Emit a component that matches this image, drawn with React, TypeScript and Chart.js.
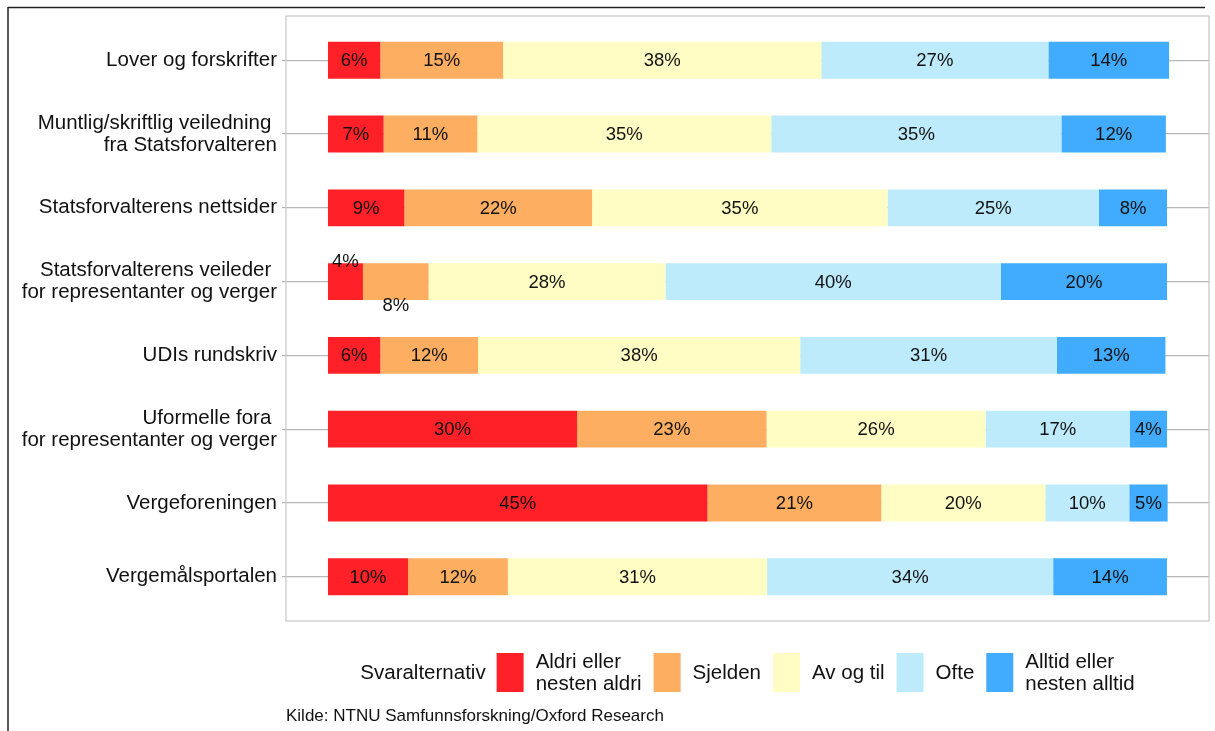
import React, { useEffect, useRef } from "react";
import { Chart, registerables } from "chart.js";

Chart.register(...registerables);

const categories: (string | string[])[] = [
  "Lover og forskrifter",
  ["Muntlig/skriftlig veiledning ", "fra Statsforvalteren"],
  "Statsforvalterens nettsider",
  ["Statsforvalterens veileder ", "for representanter og verger"],
  "UDIs rundskriv",
  ["Uformelle fora ", "for representanter og verger"],
  "Vergeforeningen",
  "Vergemålsportalen",
];

const seriesLabels: string[][] = [
  ["Aldri eller", "nesten aldri"],
  ["Sjelden"],
  ["Av og til"],
  ["Ofte"],
  ["Alltid eller", "nesten alltid"],
];

const seriesColors = ["#FF2127", "#FDAE61", "#FFFDC3", "#BDEBFC", "#41ABFD"];

const aldri = [6.24, 6.63, 9.1, 4.17, 6.24, 29.69, 45.23, 9.55];
const sjelden = [14.63, 11.17, 22.38, 7.82, 11.65, 22.58, 20.71, 11.89];
const avOgTil = [37.92, 35.03, 35.21, 28.23, 38.39, 26.11, 19.55, 30.89];
const ofte = [27.07, 34.58, 25.2, 39.99, 30.6, 17.17, 10.01, 34.1];
const alltid = [14.38, 12.45, 8.11, 19.79, 12.93, 4.45, 4.57, 13.56];

const legendTitle = "Svaralternativ";
const caption = "Kilde: NTNU Samfunnsforskning/Oxford Research";

const FONT = '"Liberation Sans", Arial, Helvetica, sans-serif';

const seriesValues = [aldri, sjelden, avOgTil, ofte, alltid];

// label nudges for crowded row (row index -> dataset index -> vertical shift px)
const labelNudges: Record<number, Record<number, number>> = { 3: { 0: -21, 1: 23 } };

const decorPlugin = {
  id: "decor",
  afterDatasetsDraw(chart: any) {
    const ctx = chart.ctx;
    ctx.save();
    ctx.font = `18.5px ${FONT}`;
    ctx.fillStyle = "#111";
    ctx.textAlign = "center";
    ctx.textBaseline = "middle";
    chart.data.datasets.forEach((ds: any, di: number) => {
      const meta = chart.getDatasetMeta(di);
      meta.data.forEach((el: any, i: number) => {
        const v = ds.data[i].x;
        const left = Math.min(el.x, el.base);
        const right = Math.max(el.x, el.base);
        const cx = (left + right) / 2;
        const nudge = (labelNudges[i] && labelNudges[i][di]) || 0;
        ctx.fillText(Math.round(v) + "%", cx, el.y + nudge + 1);
      });
    });
    ctx.restore();
  },
  afterDraw(chart: any) {
    const ctx = chart.ctx;
    const ca = chart.chartArea;
    ctx.save();
    // panel border
    ctx.strokeStyle = "#c6c6c6";
    ctx.lineWidth = 1.2;
    ctx.strokeRect(ca.left, ca.top, ca.right - ca.left, ca.bottom - ca.top);

    // outer frame lines
    ctx.strokeStyle = "#222";
    ctx.lineWidth = 1.5;
    ctx.beginPath();
    ctx.moveTo(8, 7.5);
    ctx.lineTo(1205, 7.5);
    ctx.moveTo(8, 7);
    ctx.lineTo(8, chart.height);
    ctx.stroke();

    // legend
    ctx.font = `20.5px ${FONT}`;
    ctx.fillStyle = "#111";
    ctx.textBaseline = "middle";
    ctx.textAlign = "left";
    const boxW = 27;
    const boxH = 39;
    const gapTitle = 11;
    const gapBoxText = 12;
    const gapItem = 12;
    const lineH = 21.7;
    const cy = 672.5;
    const titleW = ctx.measureText(legendTitle).width;
    const itemWidths = seriesLabels.map((lines) =>
      Math.max(...lines.map((l) => ctx.measureText(l).width))
    );
    let total = titleW + gapTitle;
    itemWidths.forEach((w, i) => {
      total += boxW + gapBoxText + w + (i < itemWidths.length - 1 ? gapItem : 0);
    });
    let x = (ca.left + ca.right) / 2 - total / 2;
    ctx.fillText(legendTitle, x, cy + 1);
    x += titleW + gapTitle;
    seriesLabels.forEach((lines, i) => {
      ctx.fillStyle = seriesColors[i];
      ctx.fillRect(x, cy - boxH / 2, boxW, boxH);
      x += boxW + gapBoxText;
      ctx.fillStyle = "#111";
      const n = lines.length;
      lines.forEach((l, li) => {
        ctx.fillText(l, x, cy + 1 + (li - (n - 1) / 2) * lineH);
      });
      x += itemWidths[i] + gapItem;
    });

    // caption
    ctx.font = `17px ${FONT}`;
    ctx.fillText(caption, ca.left, 716);
    ctx.restore();
  },
};

export default function App() {
  const ref = useRef<HTMLCanvasElement | null>(null);
  useEffect(() => {
    if (!ref.current) return;
    const chart = new Chart(ref.current, {
      type: "bar",
      data: {
        datasets: seriesValues.map((vals, si) => ({
          label: seriesLabels[si].join(" "),
          data: vals.map((v, i) => ({ x: v, y: i })),
          backgroundColor: seriesColors[si],
          borderWidth: 0,
          barPercentage: 0.5,
          categoryPercentage: 1,
        })),
      },
      plugins: [decorPlugin],
      options: {
        indexAxis: "y",
        animation: false,
        responsive: true,
        maintainAspectRatio: false,
        layout: { padding: { left: 0, right: 6, top: 16, bottom: 110 } },
        plugins: {
          legend: { display: false },
          tooltip: { enabled: false },
          title: { display: false },
        },
        scales: {
          x: {
            type: "linear",
            min: -5,
            max: 105,
            stacked: true,
            display: false,
          },
          y: {
            type: "linear",
            min: -0.6,
            max: 7.6,
            reverse: true,
            stacked: true,
            offset: false,
            afterBuildTicks: (scale: any) => {
              scale.ticks = categories.map((_, i) => ({ value: i }));
            },
            afterFit: (scale: any) => {
              scale.width = 286;
            },
            ticks: {
              padding: 5,
              color: "#111",
              font: { family: FONT, size: 20.5, lineHeight: 1.07 },
              callback: (v: any) => categories[v as number] as any,
            },
            grid: {
              offset: false,
              color: "#b8b8b8",
              lineWidth: 1.2,
              tickLength: 4,
              tickColor: "#b8b8b8",
              drawTicks: true,
            },
            border: { display: false },
          },
        },
      } as any,
    });
    return () => chart.destroy();
  }, []);
  return (
    <div style={{ position: "fixed", left: 0, top: 0, width: 1215, height: 731, background: "#fff" }}>
      <canvas ref={ref} />
    </div>
  );
}
